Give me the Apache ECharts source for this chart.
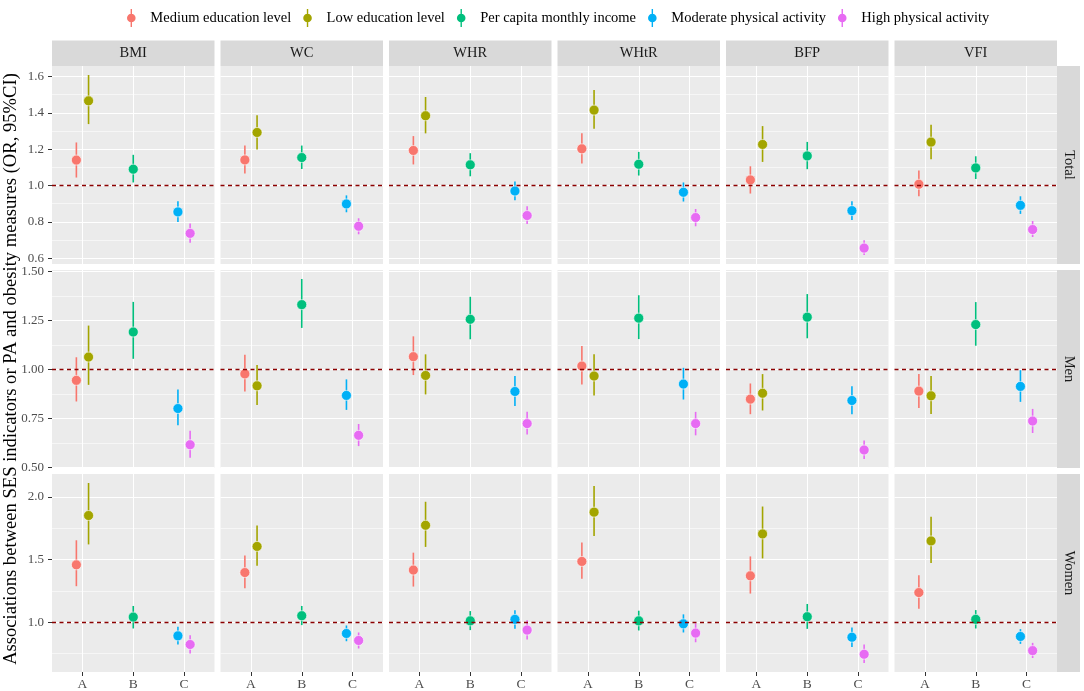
<!DOCTYPE html>
<html><head><meta charset="utf-8">
<script src="https://cdn.jsdelivr.net/npm/echarts@6/dist/echarts.min.js"></script>
<style>html,body{margin:0;padding:0;background:#fff}#c{width:1084px;height:691px}</style>
</head><body><div id="c"></div><script>
// ---------- data ----------
const measures = ['BMI', 'WC', 'WHR', 'WHtR', 'BFP', 'VFI'];
const rowNames = ['Total', 'Men', 'Women'];
const xCategories = ['A', 'B', 'C'];
const groups = ['Medium education level', 'Low education level', 'Per capita monthly income', 'Moderate physical activity', 'High physical activity'];
const groupCategory = ['A', 'A', 'B', 'C', 'C'];
const refValue = 1;

// rows = groups, columns = measures (BMI, WC, WHR, WHtR, BFP, VFI)
const totalOR = [
  [1.140, 1.141, 1.193, 1.202, 1.031, 1.007],
  [1.466, 1.292, 1.384, 1.415, 1.226, 1.239],
  [1.090, 1.154, 1.114, 1.117, 1.163, 1.097],
  [0.855, 0.899, 0.970, 0.963, 0.862, 0.891],
  [0.737, 0.776, 0.835, 0.824, 0.656, 0.758]
];
const totalLo = [
  [1.044, 1.066, 1.116, 1.121, 0.956, 0.941],
  [1.338, 1.198, 1.287, 1.312, 1.130, 1.145],
  [1.017, 1.091, 1.051, 1.055, 1.090, 1.036],
  [0.800, 0.853, 0.919, 0.912, 0.810, 0.844],
  [0.686, 0.732, 0.788, 0.776, 0.618, 0.717]
];
const totalHi = [
  [1.237, 1.220, 1.272, 1.287, 1.106, 1.083],
  [1.608, 1.387, 1.487, 1.525, 1.327, 1.334],
  [1.169, 1.220, 1.178, 1.185, 1.240, 1.161],
  [0.913, 0.946, 1.022, 1.017, 0.913, 0.941],
  [0.791, 0.820, 0.886, 0.871, 0.699, 0.805]
];
const menOR = [
  [0.944, 0.977, 1.065, 1.017, 0.848, 0.889],
  [1.063, 0.916, 0.969, 0.966, 0.878, 0.865],
  [1.191, 1.331, 1.256, 1.262, 1.267, 1.229],
  [0.800, 0.867, 0.887, 0.925, 0.841, 0.913],
  [0.615, 0.663, 0.723, 0.723, 0.588, 0.736]
];
const menLo = [
  [0.836, 0.887, 0.971, 0.923, 0.771, 0.803],
  [0.921, 0.818, 0.872, 0.867, 0.790, 0.772],
  [1.054, 1.212, 1.154, 1.155, 1.159, 1.121],
  [0.714, 0.793, 0.813, 0.846, 0.771, 0.834],
  [0.549, 0.608, 0.667, 0.663, 0.542, 0.675]
];
const menHi = [
  [1.062, 1.075, 1.169, 1.119, 0.928, 0.977],
  [1.224, 1.022, 1.077, 1.077, 0.976, 0.966],
  [1.345, 1.462, 1.371, 1.379, 1.385, 1.344],
  [0.897, 0.949, 0.966, 1.008, 0.914, 0.996],
  [0.687, 0.721, 0.783, 0.783, 0.636, 0.798]
];
const womenOR = [
  [1.458, 1.396, 1.416, 1.485, 1.370, 1.236],
  [1.852, 1.605, 1.774, 1.879, 1.705, 1.649],
  [1.040, 1.051, 1.010, 1.010, 1.043, 1.022],
  [0.890, 0.909, 1.022, 0.986, 0.879, 0.885],
  [0.821, 0.853, 0.936, 0.912, 0.743, 0.772]
];
const womenLo = [
  [1.287, 1.271, 1.284, 1.346, 1.228, 1.107],
  [1.621, 1.450, 1.601, 1.689, 1.509, 1.472],
  [0.949, 0.976, 0.936, 0.933, 0.946, 0.949],
  [0.821, 0.847, 0.946, 0.917, 0.801, 0.826],
  [0.748, 0.789, 0.861, 0.839, 0.673, 0.713]
];
const womenHi = [
  [1.654, 1.533, 1.555, 1.637, 1.525, 1.375],
  [2.112, 1.772, 1.962, 2.088, 1.924, 1.842],
  [1.129, 1.129, 1.088, 1.091, 1.145, 1.096],
  [0.962, 0.973, 1.094, 1.062, 0.957, 0.944],
  [0.895, 0.917, 1.014, 0.990, 0.821, 0.834]
];
const yLabelsTotal = ['0.6', '0.8', '1.0', '1.2', '1.4', '1.6'];
const yLabelsMen = ['0.50', '0.75', '1.00', '1.25', '1.50'];
const yLabelsWomen = ['1.0', '1.5', '2.0'];

// ---------- styling / layout ----------
const groupColors = ['#F8766D', '#A3A500', '#00BF7D', '#00B0F6', '#E76BF3'];
const REF_COLOR = '#8B0000';
const FONT = 'Liberation Serif';
const L0 = 52, COLW = 162.5, COLSTEP = 168.5;
const T0 = 66, ROWH = 198, ROWSTEP = 204;
const DODGE = 0.24;

const rowOR = [totalOR, menOR, womenOR];
const rowLo = [totalLo, menLo, womenLo];
const rowHi = [totalHi, menHi, womenHi];
const rowLabels = [yLabelsTotal, yLabelsMen, yLabelsWomen];

function rowRange(r) {
  const lo = Math.min(...rowLo[r].flat());
  const hi = Math.max(...rowHi[r].flat());
  const pad = (hi - lo) * 0.05;
  return [lo - pad, hi + pad];
}
function minorTicks(ticks, mn, mx) {
  const step = ticks[1] - ticks[0];
  const out = [];
  for (let i = -1; i < ticks.length; i++) {
    const v = (i < 0 ? ticks[0] - step : ticks[i]) + step / 2;
    if (v > mn && v < mx) out.push(+v.toFixed(4));
  }
  return out;
}
function dodgeOffset(k) {
  const members = groups.map((g, i) => i).filter(i => groupCategory[i] === groupCategory[k]);
  const idx = members.indexOf(k);
  return (idx - (members.length - 1) / 2) * DODGE;
}

const grid = [], xAxis = [], yAxis = [], series = [], graphic = [];
const xTickVals = xCategories.map((c, i) => i + 1);

for (let r = 0; r < 3; r++) {
  const [mn, mx] = rowRange(r);
  const tickVals = rowLabels[r].map(parseFloat);
  const minor = minorTicks(tickVals, mn, mx);
  for (let c = 0; c < 6; c++) {
    const g = grid.length;
    grid.push({
      left: L0 + c * COLSTEP, top: T0 + r * ROWSTEP, width: COLW, height: ROWH,
      show: true, backgroundColor: '#EBEBEB', borderWidth: 0, containLabel: false, outerBoundsMode: 'none'
    });
    xAxis.push({
      gridIndex: g, type: 'value', min: 0.4, max: 3.6,
      axisLine: { show: false },
      axisTick: { show: r === 2, customValues: xTickVals, length: 4, lineStyle: { color: '#333333', width: 1 } },
      axisLabel: {
        show: r === 2, customValues: xTickVals, margin: 5,
        formatter: v => xCategories[Math.round(v) - 1] || '',
        color: '#4D4D4D', fontFamily: FONT, fontSize: 13.5
      },
      splitLine: { show: true, lineStyle: { color: '#FFFFFF', width: 1.1 } }
    });
    yAxis.push({
      gridIndex: g, type: 'value', min: mn, max: mx,
      axisLine: { show: false },
      axisTick: { show: c === 0, customValues: tickVals, length: 4, lineStyle: { color: '#333333', width: 1 } },
      axisLabel: {
        show: c === 0, customValues: tickVals, margin: 8,
        formatter: v => {
          let best = 0;
          tickVals.forEach((t, i) => { if (Math.abs(t - v) < Math.abs(tickVals[best] - v)) best = i; });
          return rowLabels[r][best];
        },
        color: '#4D4D4D', fontFamily: FONT, fontSize: 13
      },
      splitLine: { show: true, lineStyle: { color: '#FFFFFF', width: 1.1 } }
    });
    yAxis.push({
      gridIndex: g, type: 'value', min: mn, max: mx, position: 'left',
      axisLine: { show: false },
      axisTick: { show: false, customValues: minor },
      axisLabel: { show: false, customValues: minor },
      splitLine: { show: true, lineStyle: { color: '#FFFFFF', width: 0.55 } }
    });
    const yi = yAxis.length - 2;
    // reference line at OR = 1
    series.push({
      type: 'line', name: 'ref', xAxisIndex: g, yAxisIndex: yi, data: [], z: 2, silent: true,
      itemStyle: { color: REF_COLOR }, lineStyle: { color: REF_COLOR },
      markLine: {
        silent: true, symbol: 'none', animation: false, label: { show: false },
        emphasis: { disabled: true },
        lineStyle: { color: REF_COLOR, type: [4, 3.5], width: 1.3, opacity: 1 },
        data: [{ yAxis: refValue, lineStyle: { color: REF_COLOR } }]
      }
    });
    for (let k = 0; k < groups.length; k++) {
      const x = xCategories.indexOf(groupCategory[k]) + 1 + dodgeOffset(k);
      series.push({
        type: 'custom', name: groups[k], xAxisIndex: g, yAxisIndex: yi, z: 3,
        itemStyle: { color: groupColors[k] },
        encode: { x: 0, y: [1, 2, 3] },
        data: [[x, rowOR[r][k][c], rowLo[r][k][c], rowHi[r][k][c]]],
        renderItem: (params, api) => {
          const p = api.coord([api.value(0), api.value(1)]);
          const pl = api.coord([api.value(0), api.value(2)]);
          const ph = api.coord([api.value(0), api.value(3)]);
          const color = api.visual('color');
          return {
            type: 'group', children: [
              { type: 'line', shape: { x1: pl[0], y1: pl[1], x2: ph[0], y2: ph[1] }, style: { stroke: color, lineWidth: 1.6 } },
              { type: 'circle', shape: { cx: p[0], cy: p[1], r: 5 }, style: { fill: color, stroke: '#FFFFFF', lineWidth: 0.6 } }
            ]
          };
        }
      });
    }
  }
}

// strips
for (let c = 0; c < 6; c++) {
  const x = L0 + c * COLSTEP;
  graphic.push({ type: 'rect', silent: true, shape: { x: x, y: 40.5, width: COLW, height: 25.5 }, style: { fill: '#D9D9D9' } });
  graphic.push({ type: 'text', silent: true, x: x + COLW / 2, y: 53.5,
    style: { text: measures[c], fill: '#1A1A1A', font: '14.5px "Liberation Serif"', align: 'center', verticalAlign: 'middle', textAlign: 'center', textVerticalAlign: 'middle' } });
}
for (let r = 0; r < 3; r++) {
  const y = T0 + r * ROWSTEP;
  graphic.push({ type: 'rect', silent: true, shape: { x: 1057, y: y, width: 23, height: ROWH }, style: { fill: '#D9D9D9' } });
  graphic.push({ type: 'text', silent: true, x: 1068.5, y: y + ROWH / 2, rotation: -Math.PI / 2,
    style: { text: rowNames[r], fill: '#1A1A1A', font: '14.5px "Liberation Serif"', align: 'center', verticalAlign: 'middle', textAlign: 'center', textVerticalAlign: 'middle' } });
}
graphic.push({ type: 'text', silent: true, x: 11, y: T0 + (3 * ROWH + 2 * (ROWSTEP - ROWH)) / 2, rotation: Math.PI / 2,
  style: { text: 'Associations between SES indicators or PA and obesity measures (OR, 95%CI)', fill: '#000000', font: '18.6px "Liberation Serif"', align: 'center', verticalAlign: 'middle', textAlign: 'center', textVerticalAlign: 'middle' } });

const legendIcon = 'path://M5.3,0h1.4v18h-1.4z M6,4.7a4.3,4.3 0 1,1 -0.001,0z';

const chart = echarts.init(document.getElementById('c'), null, { renderer: 'canvas' });
chart.setOption({
  animation: false,
  backgroundColor: '#FFFFFF',
  legend: {
    data: groups, top: 4, left: 122, itemWidth: 12, itemHeight: 18, itemGap: 12, icon: legendIcon,
    textStyle: { fontFamily: FONT, fontSize: 14.5, color: '#000000', padding: [0, 0, 0, 8] }
  },
  grid, xAxis, yAxis, series, graphic
});
</script></body></html>
